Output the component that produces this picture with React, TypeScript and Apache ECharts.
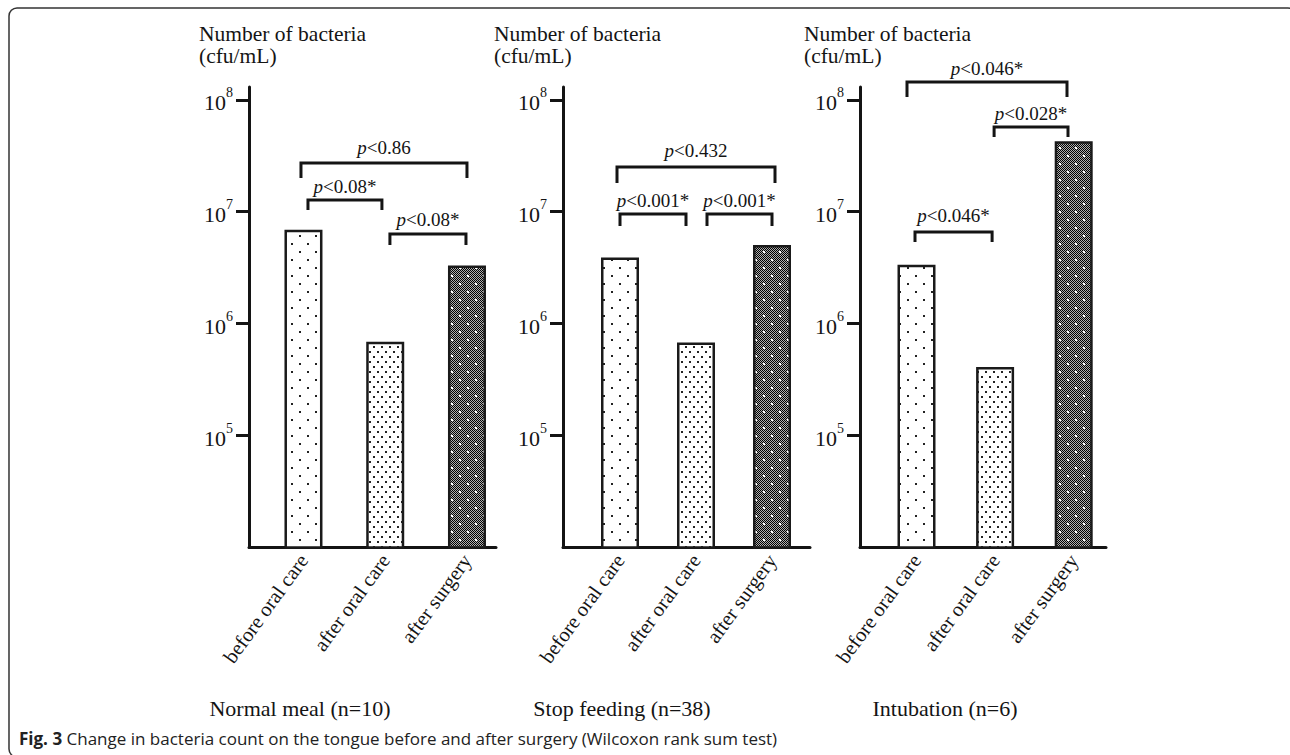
import React, { useEffect, useRef } from 'react';
import * as echarts from 'echarts';

// ---------- data ----------
const categories = ['before oral care', 'after oral care', 'after surgery'];
const panelNames = ['Normal meal (n=10)', 'Stop feeding (n=38)', 'Intubation (n=6)'];
const normalMeal = [6.9e6, 6.9e5, 3.3e6];
const stopFeeding = [3.9e6, 6.8e5, 5.05e6];
const intubation = [3.35e6, 4.1e5, 4.25e7];
const panelValues = [normalMeal, stopFeeding, intubation];
const yTicks = [1e5, 1e6, 1e7, 1e8];
const yAxisTitleLines = ['Number of bacteria', '(cfu/mL)'];
const normalMealTests = [
  { from: 0, to: 2, p: '0.86', sig: false },
  { from: 0, to: 1, p: '0.08', sig: true },
  { from: 1, to: 2, p: '0.08', sig: true },
];
const stopFeedingTests = [
  { from: 0, to: 2, p: '0.432', sig: false },
  { from: 0, to: 1, p: '0.001', sig: true },
  { from: 1, to: 2, p: '0.001', sig: true },
];
const intubationTests = [
  { from: 0, to: 2, p: '0.046', sig: true },
  { from: 1, to: 2, p: '0.028', sig: true },
  { from: 0, to: 1, p: '0.046', sig: true },
];
const panelTests = [normalMealTests, stopFeedingTests, intubationTests];
const captionLead = 'Fig. 3';
const captionText = 'Change in bacteria count on the tongue before and after surgery (Wilcoxon rank sum test)';

// ---------- layout ----------
const Y_MIN = 1e4;
const Y_MAX = 1.3e8;
const GRID_TOP = 87;
const GRID_H = 460.5;
const SERIF = '"Liberation Serif", "Times New Roman", serif';
const INK = '#141414';
const PANELS = [
  {
    axisX: 249, axisEnd: 496, barLeft: 262.6, band: 81.75, titleX: 199, subX: 300,
    brackets: [
      { hy: 163, leg: 15, dx: [-2.5, 0], ly: 147 },
      { hy: 200, leg: 10, dx: [4.5, -3.3], ly: 186 },
      { hy: 234, leg: 11, dx: [4.7, -1], ly: 219 },
    ],
  },
  {
    axisX: 563, axisEnd: 810, barLeft: 582, band: 76, titleX: 494, subX: 622,
    brackets: [
      { hy: 167, leg: 16, dx: [-3, 3], ly: 150 },
      { hy: 214, leg: 12, dx: [0, -10], ly: 200 },
      { hy: 214, leg: 12, dx: [11, 0], ly: 200 },
    ],
  },
  {
    axisX: 860, axisEnd: 1106, barLeft: 877.2, band: 78.6, titleX: 804, subX: 945,
    brackets: [
      { hy: 82, leg: 15, dx: [-9.5, -6.7], ly: 68 },
      { hy: 127, leg: 10, dx: [-1, -5.7], ly: 113 },
      { hy: 232, leg: 10, dx: [-1.5, -3], ly: 215 },
    ],
  },
];

function makePattern(kind: number): HTMLCanvasElement {
  const c = document.createElement('canvas');
  const w = kind === 1 ? 8 : 16;
  const h = kind === 1 ? 10 : 16;
  c.width = w;
  c.height = h;
  const g = c.getContext('2d')!;
  if (kind === 2) {
    const img = g.createImageData(w, h);
    for (let y = 0; y < h; y++) {
      for (let x = 0; x < w; x++) {
        const v = (x + y) % 2 === 0 ? 0 : 175;
        const o = (y * w + x) * 4;
        img.data[o] = v; img.data[o + 1] = v; img.data[o + 2] = v; img.data[o + 3] = 255;
      }
    }
    g.putImageData(img, 0, 0);
    g.fillStyle = '#ffffff';
    g.fillRect(3, 3, 2, 2);
    g.fillRect(11, 11, 2, 2);
  } else {
    g.fillStyle = '#ffffff';
    g.fillRect(0, 0, w, h);
    g.fillStyle = '#222222';
    if (kind === 0) {
      g.fillRect(3, 3, 2, 2);
      g.fillRect(11, 11, 2, 2);
    } else {
      g.fillRect(1, 1, 2, 2);
      g.fillRect(5, 6, 2, 2);
    }
  }
  return c;
}

export default function App() {
  const ref = useRef<HTMLDivElement>(null);
  useEffect(() => {
    if (!ref.current) return;
    const chart = echarts.init(ref.current, null, { renderer: 'svg' });
    const patterns = [makePattern(0), makePattern(1), makePattern(2)];
    const option: any = {
      animation: false,
      backgroundColor: '#ffffff',
      grid: [], xAxis: [], yAxis: [], series: [],
    };
    PANELS.forEach((P, p) => {
      option.grid.push({ left: P.axisX, top: GRID_TOP, width: P.axisEnd - P.axisX, height: GRID_H });
      option.grid.push({ left: P.barLeft, top: GRID_TOP, width: P.band * 3, height: GRID_H });
      option.xAxis.push({
        gridIndex: 2 * p, type: 'value', min: 0, max: 1,
        axisLine: { show: true, onZero: false, lineStyle: { color: INK, width: 3 } },
        axisTick: { show: false }, axisLabel: { show: false }, splitLine: { show: false },
      });
      option.xAxis.push({
        gridIndex: 2 * p + 1, type: 'category', data: categories,
        axisLine: { show: false }, axisTick: { show: false },
        axisLabel: { interval: 0, rotate: 54, fontSize: 20.5, fontFamily: SERIF, color: INK, margin: 9 },
      });
      option.yAxis.push({
        gridIndex: 2 * p, type: 'log', logBase: 10, min: Y_MIN, max: Y_MAX,
        axisLine: { show: true, onZero: false, lineStyle: { color: INK, width: 3 } },
        axisTick: { show: true, length: 13, customValues: yTicks, lineStyle: { color: INK, width: 3 } },
        axisLabel: {
          customValues: yTicks, margin: 16,
          formatter: (v: number) => `{b|10}{s|${Math.round(Math.log10(v))}}`,
          rich: {
            b: { fontSize: 22, fontFamily: SERIF, color: INK, padding: [6, 0, 0, 0] },
            s: { fontSize: 14, fontFamily: SERIF, color: INK, verticalAlign: 'top' },
          },
        },
        splitLine: { show: false },
      });
      option.yAxis.push({ gridIndex: 2 * p + 1, type: 'log', logBase: 10, min: Y_MIN, max: Y_MAX, show: false });
      option.series.push({
        type: 'bar', xAxisIndex: 2 * p + 1, yAxisIndex: 2 * p + 1, barWidth: 38,
        itemStyle: { borderColor: '#1a1a1a', borderWidth: 2.5 },
        data: panelValues[p].map((v, i) => ({
          value: v,
          itemStyle: { color: { image: patterns[i], repeat: 'repeat' } },
        })),
      });
    });
    chart.setOption(option);

    const graphic: any[] = [
      {
        type: 'rect', shape: { x: 9, y: 8, width: 1287, height: 749, r: 8 },
        style: { fill: 'none', stroke: '#333', lineWidth: 1.5 }, silent: true,
      },
      {
        type: 'text', x: 19, y: 738,
        style: {
          text: `{b|${captionLead}} ${captionText}`,
          font: '17px "Open Sans", sans-serif', fill: '#222', verticalAlign: 'middle',
          rich: { b: { fontWeight: 'bold', fontSize: 17, fontFamily: '"Open Sans", sans-serif', fill: '#222' } },
        },
      },
    ];
    PANELS.forEach((P, p) => {
      yAxisTitleLines.forEach((line, li) => {
        graphic.push({
          type: 'text', x: P.titleX, y: 34 + li * 22,
          style: { text: line, font: `21.5px ${SERIF}`, fill: INK, verticalAlign: 'middle' },
        });
      });
      graphic.push({
        type: 'text', x: P.subX, y: 708,
        style: { text: panelNames[p], font: `22px ${SERIF}`, fill: INK, align: 'center', verticalAlign: 'middle' },
      });
      panelTests[p].forEach((t, k) => {
        const L = P.brackets[k];
        const x1 = (chart.convertToPixel({ xAxisIndex: 2 * p + 1 } as any, categories[t.from]) as any) + L.dx[0];
        const x2 = (chart.convertToPixel({ xAxisIndex: 2 * p + 1 } as any, categories[t.to]) as any) + L.dx[1];
        graphic.push({
          type: 'polyline',
          shape: { points: [[x1, L.hy + L.leg], [x1, L.hy], [x2, L.hy], [x2, L.hy + L.leg]] },
          style: { stroke: INK, lineWidth: 3, fill: 'none' },
        });
        graphic.push({
          type: 'text', x: (x1 + x2) / 2, y: L.ly,
          style: {
            text: `{i|p}{n|<${t.p}${t.sig ? '*' : ''}}`,
            align: 'center', verticalAlign: 'middle',
            rich: {
              i: { fontStyle: 'italic', fontSize: 19, fontFamily: SERIF, fill: INK },
              n: { fontSize: 19, fontFamily: SERIF, fill: INK },
            },
          },
        });
      });
    });
    chart.setOption({ graphic });
    return () => chart.dispose();
  }, []);
  return (
    <div
      ref={ref}
      style={{ position: 'fixed', left: 0, top: 0, width: 1290, height: 755, background: '#fff' }}
    />
  );
}
